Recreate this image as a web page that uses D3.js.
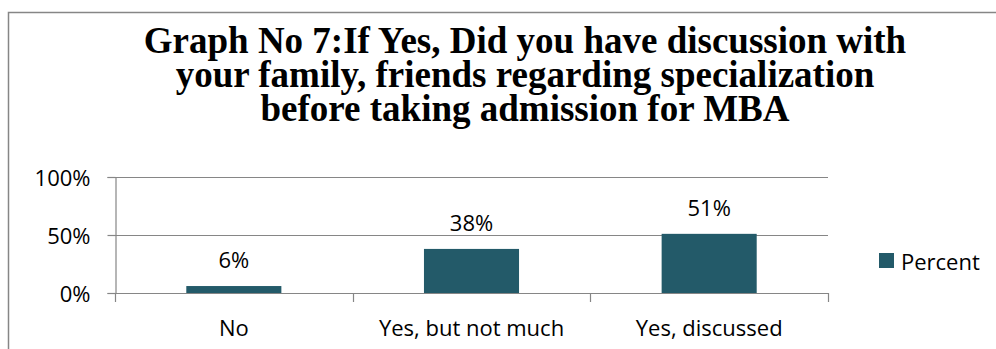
<!DOCTYPE html>
<html>
<head>
<meta charset="utf-8">
<script src="https://cdn.jsdelivr.net/npm/d3@7"></script>
<style>
  body { margin: 0; background: #fff; }
</style>
</head>
<body>
<div id="chart"></div>
<script>
// data
const categories = ["No", "Yes, but not much", "Yes, discussed"]
const percentValues = [0.06, 0.38, 0.51]
const yTickValues = [0, 0.5, 1]
const seriesName = "Percent"
const titleLines = [
    "Graph No 7:If Yes, Did you have discussion with",
    "your family, friends regarding specialization",
    "before taking admission for MBA"
]

const width = 996, height = 349
const margin = { top: 177, left: 115, right: 168, bottom: 56 }
const innerW = width - margin.left - margin.right
const innerH = height - margin.top - margin.bottom

const barColor = "#235a69"
const lineColor = "#868686"
const labelFont = "'Open Sans', sans-serif"

const svg = d3.select("#chart").append("svg")
    .attr("width", width)
    .attr("height", height)

// chart border (runs off the right and bottom edges)
svg.append("rect")
    .attr("x", 8.5).attr("y", 12.5)
    .attr("width", width + 20).attr("height", height + 20)
    .attr("fill", "none")
    .attr("stroke", lineColor)
    .attr("stroke-width", 1.5)

// title
svg.append("text")
    .attr("x", 525)
    .attr("y", 53)
    .attr("text-anchor", "middle")
    .style("font-family", "'Liberation Serif', 'Times New Roman', serif")
    .style("font-weight", "bold")
    .style("font-size", "37px")
    .selectAll("tspan")
    .data(titleLines)
    .join("tspan")
    .attr("x", 525)
    .attr("dy", (d, i) => i === 0 ? 0 : 34)
    .text(d => d)

const g = svg.append("g")
    .attr("transform", `translate(${margin.left},${margin.top})`)

// scales
const x = d3.scaleBand()
    .domain(categories)
    .range([0, innerW])
    .paddingInner(0.6)
    .paddingOuter(0.3)

const y = d3.scaleLinear()
    .domain([0, 1])
    .range([innerH, 0])

// gridlines
g.append("g")
    .selectAll("line")
    .data(yTickValues.filter(d => d > 0))
    .join("line")
    .attr("x1", 0).attr("x2", innerW)
    .attr("y1", d => Math.round(y(d)) + 0.5)
    .attr("y2", d => Math.round(y(d)) + 0.5)
    .attr("stroke", lineColor)
    .attr("stroke-width", 1.2)

// y axis
const yAxis = g.append("g")
    .attr("transform", "translate(0.5,0)")
    .call(d3.axisLeft(y).tickValues(yTickValues).tickFormat(d3.format(".0%")).tickSize(8).tickPadding(17))
yAxis.selectAll("path, line").attr("stroke", lineColor).attr("stroke-width", 1.2)
yAxis.selectAll("text")
    .attr("fill", "#000")
    .attr("dy", "0.38em")
    .style("font-family", labelFont)
    .style("font-size", "22px")

// bars
g.append("g")
    .selectAll("rect")
    .data(categories.map((c, i) => ({ cat: c, value: percentValues[i] })))
    .join("rect")
    .attr("x", d => x(d.cat))
    .attr("y", d => y(d.value))
    .attr("width", x.bandwidth())
    .attr("height", d => innerH - y(d.value))
    .attr("fill", barColor)

// x axis
const xAxis = g.append("g")
    .attr("transform", `translate(0,${innerH})`)
    .call(d3.axisBottom(x).tickSize(0))
xAxis.select(".domain").attr("stroke", lineColor).attr("stroke-width", 1.2)
xAxis.selectAll("text")
    .attr("fill", "#000")
    .attr("y", 43)
    .attr("dy", 0)
    .style("font-family", labelFont)
    .style("font-size", "22px")

// category tick marks at band edges
const edges = categories.map(c => x(c) - x.step() * x.paddingInner() / 2)
edges.push(innerW)
xAxis.selectAll(".edge")
    .data(edges)
    .join("line")
    .attr("class", "edge")
    .attr("x1", d => Math.round(d) + 0.5).attr("x2", d => Math.round(d) + 0.5)
    .attr("y1", 0).attr("y2", 9)
    .attr("stroke", lineColor)
    .attr("stroke-width", 1.2)

// value labels
g.append("g")
    .selectAll("text")
    .data(categories.map((c, i) => ({ cat: c, value: percentValues[i] })))
    .join("text")
    .attr("x", d => x(d.cat) + x.bandwidth() / 2)
    .attr("y", d => y(d.value) - 18)
    .attr("text-anchor", "middle")
    .style("font-family", labelFont)
    .style("font-size", "22px")
    .text(d => d3.format(".0%")(d.value))

// legend
const legend = svg.append("g")
    .attr("transform", "translate(879,253)")
legend.append("rect")
    .attr("width", 15).attr("height", 15)
    .attr("fill", barColor)
legend.append("text")
    .attr("x", 22)
    .attr("y", 17)
    .style("font-family", labelFont)
    .style("font-size", "22px")
    .text(seriesName)
</script>
</body>
</html>
